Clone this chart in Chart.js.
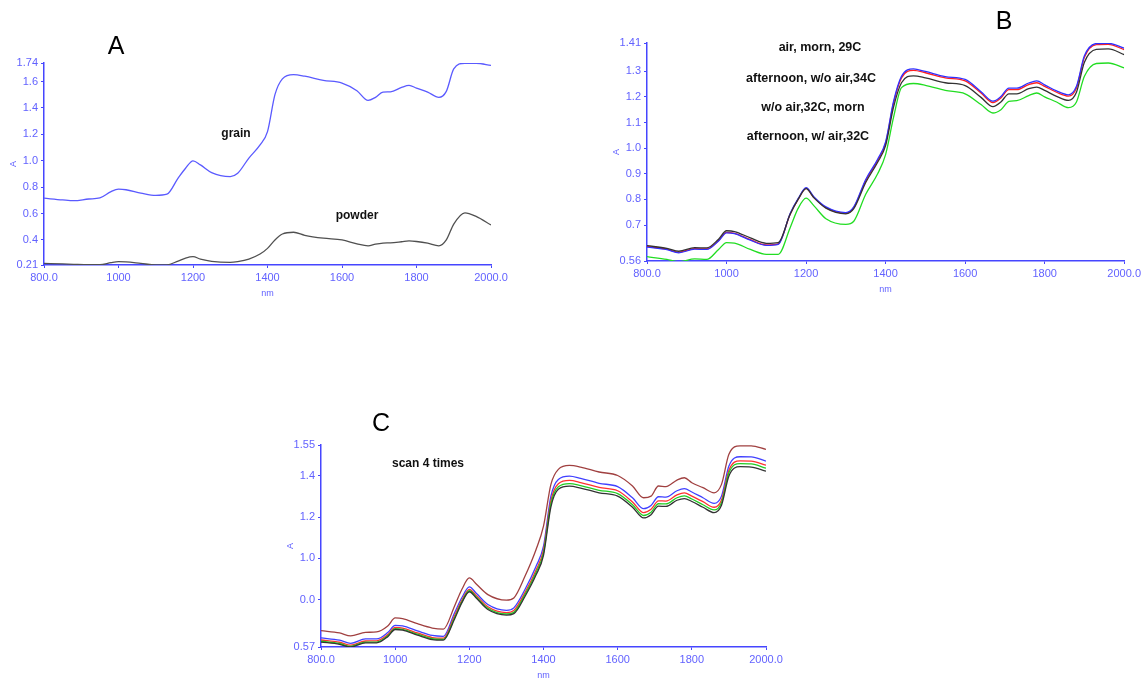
<!DOCTYPE html>
<html>
<head>
<meta charset="utf-8">
<script src="https://cdn.jsdelivr.net/npm/chart.js@4.4.1/dist/chart.umd.min.js"></script>
<style>
  html, body { margin: 0; padding: 0; background: #ffffff; }
  #page { position: relative; width: 1144px; height: 679px; overflow: hidden; font-family: "Liberation Sans", Arial, sans-serif; }
  .cv { position: absolute; left: 0; top: 0; width: 1144px; height: 679px; }
  .lbl { position: absolute; transform: translate(-50%, -50%); white-space: nowrap; color: #111; }
  .big { font-size: 25px; font-weight: normal; color: #000; }
  .ann { font-size: 12px; font-weight: bold; }
  .annb { font-size: 12.5px; font-weight: bold; }
</style>
</head>
<body>
<div id="page">
  <canvas id="cA" class="cv" width="1144" height="679"></canvas>
  <canvas id="cB" class="cv" width="1144" height="679"></canvas>
  <canvas id="cC" class="cv" width="1144" height="679"></canvas>
  <div class="lbl big" style="left:116px;top:45px;">A</div>
  <div class="lbl big" style="left:1004px;top:20px;">B</div>
  <div class="lbl big" style="left:381px;top:422px;">C</div>
  <div class="lbl ann" style="left:236px;top:133px;">grain</div>
  <div class="lbl ann" style="left:357px;top:215px;">powder</div>
  <div class="lbl annb" style="left:820px;top:47px;">air, morn, 29C</div>
  <div class="lbl annb" style="left:811px;top:78px;">afternoon, w/o air,34C</div>
  <div class="lbl annb" style="left:813px;top:107px;">w/o air,32C, morn</div>
  <div class="lbl annb" style="left:808px;top:136px;">afternoon, w/ air,32C</div>
  <div class="lbl ann" style="left:428px;top:463px;">scan 4 times</div>
</div>
<script>
// ---------------- DATA ----------------
const wavelengths = [800, 850, 880, 920, 950, 980, 1000, 1020, 1060, 1100, 1130, 1160, 1180, 1200, 1220, 1250, 1300, 1320, 1350, 1380, 1400, 1420, 1440, 1470, 1500, 1550, 1600, 1640, 1670, 1690, 1710, 1730, 1760, 1780, 1800, 1830, 1860, 1880, 1900, 1930, 1960, 2000];

const xTickValues = [800, 1000, 1200, 1400, 1600, 1800, 2000];
const xTickLabels = ["800.0", "1000", "1200", "1400", "1600", "1800", "2000.0"];

// Panel A
const aGrain = [0.716, 0.703, 0.697, 0.710, 0.718, 0.766, 0.784, 0.780, 0.755, 0.737, 0.746, 0.868, 0.943, 0.999, 0.968, 0.910, 0.880, 0.905, 1.020, 1.120, 1.220, 1.500, 1.620, 1.652, 1.640, 1.609, 1.588, 1.530, 1.457, 1.480, 1.520, 1.522, 1.555, 1.570, 1.550, 1.520, 1.480, 1.525, 1.695, 1.738, 1.738, 1.722];
const aPowder = [0.222, 0.218, 0.215, 0.212, 0.212, 0.228, 0.235, 0.233, 0.222, 0.211, 0.211, 0.240, 0.262, 0.273, 0.255, 0.238, 0.230, 0.236, 0.255, 0.293, 0.336, 0.400, 0.445, 0.458, 0.435, 0.413, 0.400, 0.370, 0.355, 0.368, 0.376, 0.378, 0.386, 0.392, 0.388, 0.375, 0.355, 0.400, 0.520, 0.605, 0.578, 0.513];
const aYTicks = [0.21, 0.4, 0.6, 0.8, 1.0, 1.2, 1.4, 1.6, 1.74];
const aYLabels = ["0.21", "0.4", "0.6", "0.8", "1.0", "1.2", "1.4", "1.6", "1.74"];

// Panel B
const bBlue = [0.614, 0.604, 0.592, 0.606, 0.605, 0.638, 0.670, 0.667, 0.641, 0.621, 0.625, 0.745, 0.803, 0.846, 0.810, 0.771, 0.749, 0.771, 0.878, 0.957, 1.024, 1.182, 1.280, 1.309, 1.299, 1.279, 1.268, 1.220, 1.183, 1.201, 1.234, 1.234, 1.254, 1.262, 1.247, 1.223, 1.208, 1.241, 1.360, 1.408, 1.409, 1.390];
const bRed = [0.617, 0.606, 0.594, 0.608, 0.607, 0.640, 0.672, 0.668, 0.643, 0.623, 0.627, 0.742, 0.800, 0.843, 0.807, 0.768, 0.746, 0.768, 0.873, 0.952, 1.018, 1.176, 1.274, 1.303, 1.294, 1.274, 1.262, 1.215, 1.178, 1.196, 1.228, 1.228, 1.248, 1.255, 1.241, 1.218, 1.203, 1.235, 1.354, 1.404, 1.405, 1.384];
const bBlack = [0.620, 0.609, 0.598, 0.612, 0.611, 0.645, 0.678, 0.675, 0.650, 0.629, 0.632, 0.742, 0.800, 0.842, 0.806, 0.766, 0.744, 0.764, 0.866, 0.945, 1.010, 1.160, 1.255, 1.282, 1.274, 1.255, 1.244, 1.198, 1.162, 1.180, 1.212, 1.212, 1.232, 1.238, 1.225, 1.202, 1.186, 1.218, 1.335, 1.385, 1.387, 1.365];
const bGreen = [0.577, 0.566, 0.557, 0.568, 0.566, 0.605, 0.632, 0.630, 0.605, 0.586, 0.586, 0.690, 0.765, 0.805, 0.775, 0.725, 0.703, 0.715, 0.820, 0.900, 0.975, 1.120, 1.236, 1.252, 1.245, 1.225, 1.212, 1.170, 1.137, 1.150, 1.182, 1.185, 1.205, 1.215, 1.200, 1.180, 1.158, 1.180, 1.280, 1.330, 1.332, 1.313];
const bYTicks = [0.56, 0.7, 0.8, 0.9, 1.0, 1.1, 1.2, 1.3, 1.41];
const bYLabels = ["0.56", "0.7", "0.8", "0.9", "1.0", "1.1", "1.2", "1.3", "1.41"];

// Panel C
const cBrown = [0.649, 0.638, 0.624, 0.641, 0.643, 0.672, 0.711, 0.708, 0.683, 0.662, 0.657, 0.768, 0.850, 0.905, 0.873, 0.824, 0.797, 0.808, 0.913, 1.043, 1.156, 1.359, 1.432, 1.451, 1.443, 1.419, 1.402, 1.351, 1.294, 1.302, 1.351, 1.348, 1.380, 1.391, 1.367, 1.343, 1.318, 1.359, 1.505, 1.546, 1.546, 1.529];
const cBlue = [0.614, 0.603, 0.588, 0.609, 0.609, 0.640, 0.675, 0.672, 0.648, 0.626, 0.622, 0.735, 0.810, 0.862, 0.828, 0.776, 0.748, 0.760, 0.849, 0.962, 1.059, 1.302, 1.383, 1.399, 1.388, 1.364, 1.348, 1.294, 1.241, 1.257, 1.299, 1.297, 1.328, 1.338, 1.322, 1.294, 1.267, 1.302, 1.448, 1.493, 1.492, 1.472];
const cRed = [0.604, 0.593, 0.579, 0.599, 0.600, 0.630, 0.665, 0.662, 0.638, 0.616, 0.613, 0.722, 0.798, 0.850, 0.817, 0.765, 0.737, 0.747, 0.834, 0.944, 1.040, 1.280, 1.362, 1.378, 1.368, 1.344, 1.328, 1.274, 1.222, 1.238, 1.279, 1.278, 1.308, 1.318, 1.302, 1.275, 1.248, 1.283, 1.428, 1.473, 1.472, 1.452];
const cGreen = [0.598, 0.587, 0.573, 0.594, 0.594, 0.624, 0.659, 0.656, 0.632, 0.610, 0.607, 0.712, 0.790, 0.843, 0.810, 0.758, 0.730, 0.738, 0.824, 0.932, 1.027, 1.265, 1.347, 1.363, 1.353, 1.330, 1.314, 1.260, 1.208, 1.224, 1.265, 1.264, 1.294, 1.303, 1.288, 1.260, 1.235, 1.270, 1.415, 1.460, 1.458, 1.438];
const cBlack = [0.594, 0.583, 0.570, 0.590, 0.590, 0.620, 0.655, 0.652, 0.628, 0.606, 0.603, 0.705, 0.785, 0.838, 0.805, 0.752, 0.725, 0.732, 0.815, 0.920, 1.015, 1.250, 1.335, 1.350, 1.341, 1.318, 1.302, 1.248, 1.196, 1.212, 1.253, 1.252, 1.282, 1.290, 1.276, 1.248, 1.222, 1.258, 1.400, 1.445, 1.443, 1.423];
const cYTicks = [0.57, 0.8, 1.0, 1.2, 1.4, 1.55];
const cYLabels = ["0.57", "0.0", "1.0", "1.2", "1.4", "1.55"];

// ---------------- STYLE ----------------
const AXIS_COLOR = '#4646ff';
const TICK_COLOR = '#6262ff';
const PAGE_W = 1144, PAGE_H = 679;
const Y_W = 40, X_H = 34;

function pts(vals) { return wavelengths.map((w, i) => ({ x: w, y: vals[i] })); }
function ds(vals, color) {
  return { data: pts(vals), borderColor: color, borderWidth: 1.3, pointRadius: 0, fill: false,
           tension: 0.35, cubicInterpolationMode: 'monotone' };
}

function makeChart(id, area, yMin, yMax, yTicks, yLabels, datasets) {
  const [L, T, R, B] = area;
  return new Chart(document.getElementById(id), {
    type: 'line',
    data: { datasets },
    options: {
      responsive: false,
      animation: false,
      events: [],
      layout: { padding: { left: L - Y_W, top: T, right: PAGE_W - R, bottom: PAGE_H - B - X_H } },
      plugins: { legend: { display: false }, tooltip: { enabled: false } },
      scales: {
        x: {
          type: 'linear', min: 800, max: 2000,
          afterFit: s => { s.height = X_H; },
          afterBuildTicks: s => { s.ticks = xTickValues.map(v => ({ value: v })); },
          ticks: { color: TICK_COLOR, font: { size: 11, family: 'Liberation Sans' }, padding: 3, maxRotation: 0, autoSkip: false,
                   callback: v => xTickLabels[xTickValues.indexOf(v)] },
          grid: { drawOnChartArea: false, drawTicks: true, tickLength: 3, color: AXIS_COLOR },
          border: { display: true, color: AXIS_COLOR, width: 1.5 },
          title: { display: true, text: 'nm', color: TICK_COLOR, font: { size: 9, family: 'Liberation Sans' }, padding: { top: 0, bottom: 0 } }
        },
        y: {
          type: 'linear', min: yMin, max: yMax,
          afterFit: s => { s.width = Y_W; },
          afterBuildTicks: s => { s.ticks = yTicks.map(v => ({ value: v })); },
          ticks: { color: TICK_COLOR, font: { size: 11, family: 'Liberation Sans' }, padding: 3, autoSkip: false,
                   callback: v => yLabels[yTicks.indexOf(v)] },
          grid: { drawOnChartArea: false, drawTicks: true, tickLength: 3, color: AXIS_COLOR },
          border: { display: true, color: AXIS_COLOR, width: 1.5 },
          title: { display: true, text: 'A', color: TICK_COLOR, font: { size: 9, family: 'Liberation Sans' }, padding: { top: 4, bottom: 2 } }
        }
      }
    }
  });
}

makeChart('cA', [44, 63, 491, 265], 0.21, 1.74, aYTicks, aYLabels, [
  ds(aGrain, '#5a5aff'),
  ds(aPowder, '#505050')
]);

makeChart('cB', [647, 43, 1127, 261], 0.56, 1.41, bYTicks, bYLabels, [
  ds(bGreen, '#22dd22'),
  ds(bBlack, '#333333'),
  ds(bBlue, '#3030ff'),
  ds(bRed, '#ff2020')
]);

makeChart('cC', [321, 445, 766, 647], 0.57, 1.55, cYTicks, cYLabels, [
  ds(cBlack, '#333333'),
  ds(cGreen, '#22cc22'),
  ds(cRed, '#ff3030'),
  ds(cBlue, '#4040ff'),
  ds(cBrown, '#a04040')
]);
</script>
</body>
</html>
